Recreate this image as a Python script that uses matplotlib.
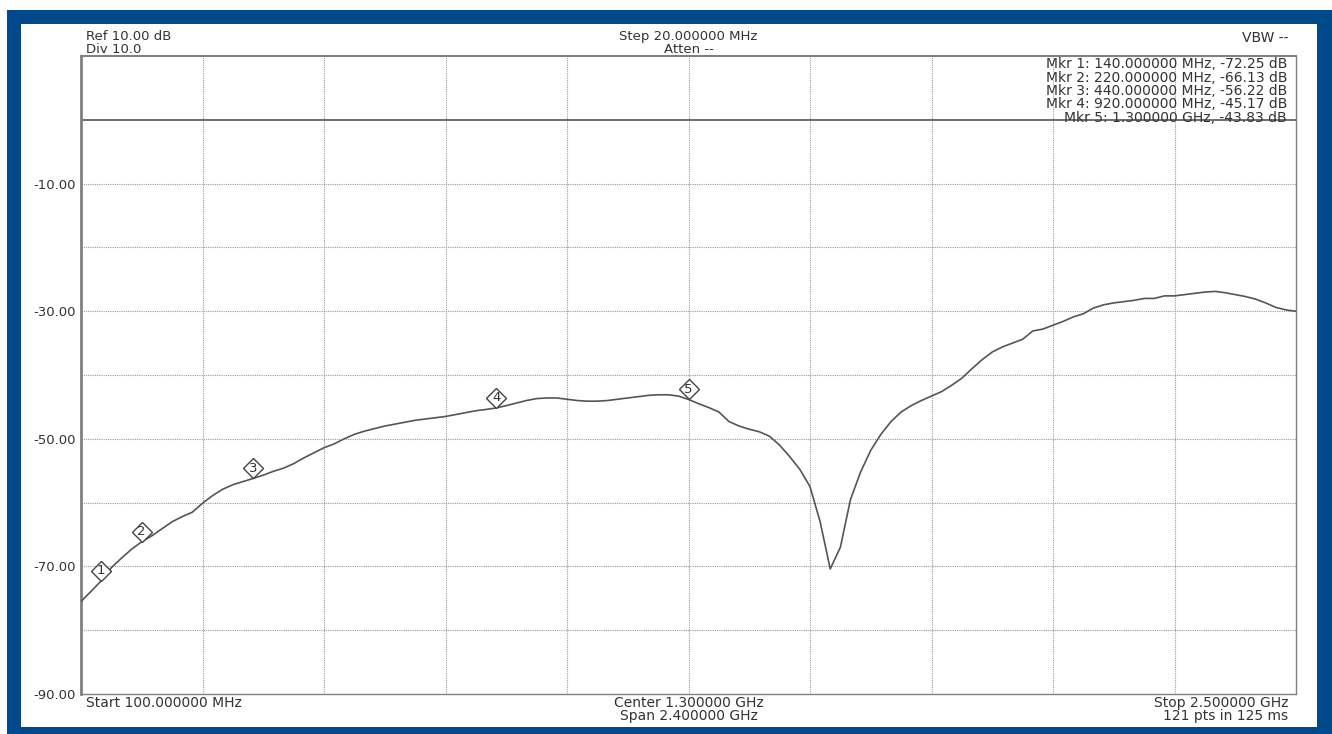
import matplotlib
matplotlib.use('Agg')
import matplotlib.pyplot as plt
from matplotlib.patches import Rectangle
import matplotlib.transforms as mtransforms
import numpy as np

# ---------------- data ----------------
start_mhz = 100
stop_mhz = 2500
step_mhz = 20
freq_mhz = np.arange(start_mhz, stop_mhz + step_mhz, step_mhz)

level_db = [
    -75.5, -73.9, -72.25, -70.2, -68.7, -67.3, -66.13, -65.2, -64.1, -63.0,
    -62.2, -61.5, -60.1, -58.9, -57.9, -57.2, -56.7, -56.22, -55.7, -55.1,
    -54.6, -53.9, -53.0, -52.2, -51.4, -50.8, -50.0, -49.3, -48.8, -48.4,
    -48.0, -47.7, -47.4, -47.1, -46.9, -46.7, -46.5, -46.2, -45.9, -45.6,
    -45.4, -45.17, -44.8, -44.4, -44.0, -43.7, -43.6, -43.6, -43.8, -44.0,
    -44.1, -44.1, -44.0, -43.8, -43.6, -43.4, -43.2, -43.1, -43.1, -43.3,
    -43.83, -44.5, -45.1, -45.8, -47.3, -48.0, -48.5, -48.9, -49.6, -51.0,
    -52.8, -54.8, -57.5, -63.0, -70.4, -67.0, -59.5, -55.2, -51.8, -49.3,
    -47.3, -45.8, -44.8, -44.0, -43.3, -42.6, -41.6, -40.5, -39.0, -37.6,
    -36.4, -35.6, -35.0, -34.4, -33.1, -32.8, -32.2, -31.6, -30.9, -30.4,
    -29.5, -29.0, -28.7, -28.5, -28.3, -28.0, -28.0, -27.6, -27.6, -27.4,
    -27.2, -27.0, -26.9, -27.1, -27.4, -27.7, -28.1, -28.7, -29.4, -29.8,
    -30.0,
]

marker_ids = [1, 2, 3, 4, 5]
marker_freq_mhz = [140, 220, 440, 920, 1300]
marker_db = [-72.25, -66.13, -56.22, -45.17, -43.83]
marker_freq_text = ["140.000000 MHz", "220.000000 MHz", "440.000000 MHz",
                    "920.000000 MHz", "1.300000 GHz"]

ref_db = 10
div_db = 10
bottom_db = -90
ytick_values = [-10, -30, -50, -70, -90]
ytick_labels = ["-10.00", "-30.00", "-50.00", "-70.00", "-90.00"]

# ---------------- figure ----------------
W, H = 1332, 734
fig = plt.figure(figsize=(W / 100, H / 100), dpi=100)
fig.patch.set_facecolor('white')

blue = '#004A8C'
fig.add_artist(Rectangle((7 / W, 0), 1 - 7 / W, 1 - 10 / H,
                         transform=fig.transFigure, facecolor=blue,
                         edgecolor='none', zorder=0))
fig.add_artist(Rectangle((21 / W, 1 - 727 / H), (1317 - 21) / W, (727 - 24) / H,
                         transform=fig.transFigure, facecolor='white',
                         edgecolor='none', zorder=0))

left, right, top, bottom = 81, 1296, 56, 694
ax = fig.add_axes([left / W, 1 - bottom / H, (right - left) / W, (bottom - top) / H])
ax.set_facecolor('white')

ax.set_xlim(start_mhz, stop_mhz)
ax.set_ylim(bottom_db, ref_db)

grid_color = '#9a9a9a'
xgrid = np.arange(start_mhz, stop_mhz + 1, (stop_mhz - start_mhz) / 10)
ygrid = np.arange(bottom_db, ref_db + 1, div_db)
for xv in xgrid[1:-1]:
    ax.axvline(xv, color=grid_color, lw=0.8, ls=(0, (1, 1)), zorder=1)
for yv in ygrid[1:-1]:
    if yv == 0:
        ax.axhline(yv, color='#555555', lw=1.2, zorder=1.5)
    else:
        ax.axhline(yv, color=grid_color, lw=0.8, ls=(0, (1, 1)), zorder=1)

ax.set_xticks([])
ax.set_yticks(ytick_values)
ax.set_yticklabels(ytick_labels, fontsize=9.5, color='#333333', family='DejaVu Sans')
ax.tick_params(axis='y', length=0, pad=4)

for s in ax.spines.values():
    s.set_color('#808080')
    s.set_linewidth(1.0)
ax.spines['left'].set_linewidth(2.0)
ax.spines['top'].set_linewidth(1.5)

ax.plot(freq_mhz, level_db, color='#555555', lw=1.2, zorder=3, clip_on=True)

# markers: diamond sitting on the trace point
off = mtransforms.offset_copy(ax.transData, fig=fig, x=0, y=10, units='dots')
for mid, mf, md in zip(marker_ids, marker_freq_mhz, marker_db):
    ax.plot([mf], [md], marker='D', markersize=10.5, markerfacecolor='white',
            markeredgecolor='#444444', markeredgewidth=1.0, transform=off,
            zorder=5, clip_on=False)
    ax.text(mf, md, str(mid), transform=off, ha='center', va='center',
            fontsize=9.5, color='#333333', zorder=6)

tc = '#333333'
fs = 10
fs_hdr = 9.5
# header texts
fig.text(86 / W, 1 - 36.5 / H, f"Ref {ref_db:.2f} dB", ha='left', va='center', fontsize=fs_hdr, color=tc)
fig.text(86 / W, 1 - 49.5 / H, f"Div {div_db:.1f}", ha='left', va='center', fontsize=fs_hdr, color=tc)
fig.text(688.5 / W, 1 - 36.5 / H, f"Step {step_mhz:.6f} MHz", ha='center', va='center', fontsize=fs_hdr, color=tc)
fig.text(688.5 / W, 1 - 49.5 / H, "Atten --", ha='center', va='center', fontsize=fs_hdr, color=tc)
fig.text(1288 / W, 1 - 38 / H, "VBW --", ha='right', va='center', fontsize=fs, color=tc)

# marker readout
for i, (mid, ft, md) in enumerate(zip(marker_ids, marker_freq_text, marker_db)):
    y = 64.3 + i * 13.3
    fig.text(1287 / W, 1 - y / H, f"Mkr {mid}: {ft}, {md:.2f} dB", ha='right',
             va='center', fontsize=fs, color=tc, zorder=10)

# footer texts
fig.text(86 / W, 1 - 703 / H, f"Start {start_mhz:.6f} MHz", ha='left', va='center', fontsize=fs, color=tc)
center_ghz = (start_mhz + stop_mhz) / 2 / 1000
span_ghz = (stop_mhz - start_mhz) / 1000
fig.text(688.5 / W, 1 - 703 / H, f"Center {center_ghz:.6f} GHz", ha='center', va='center', fontsize=fs, color=tc)
fig.text(688.5 / W, 1 - 716 / H, f"Span {span_ghz:.6f} GHz", ha='center', va='center', fontsize=fs, color=tc)
fig.text(1288 / W, 1 - 703 / H, f"Stop {stop_mhz / 1000:.6f} GHz", ha='right', va='center', fontsize=fs, color=tc)
fig.text(1288 / W, 1 - 716 / H, f"{len(freq_mhz)} pts in 125 ms", ha='right', va='center', fontsize=fs, color=tc)

fig.savefig('out.png', dpi=100, facecolor='white')
